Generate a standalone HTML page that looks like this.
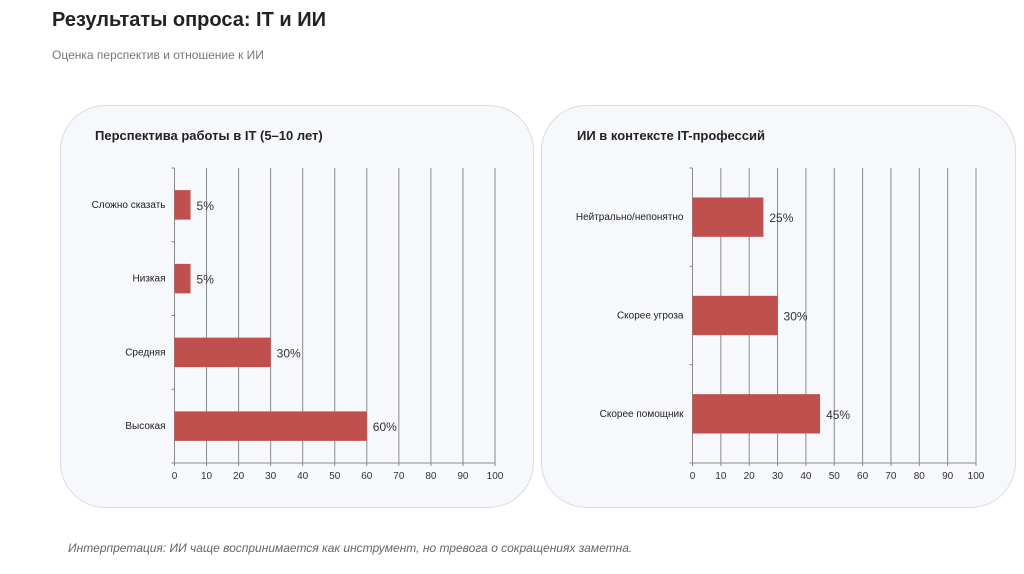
<!DOCTYPE html>
<html><head><meta charset="utf-8">
<style>
body{margin:0;width:1024px;height:574px;background:#fff;font-family:"Liberation Sans","Noto Sans CJK SC",sans-serif;position:relative;overflow:hidden}
.t{position:absolute}
</style></head><body>
<div class="t" style="left:52px;top:9px;font-size:20px;font-weight:bold;color:#222">Результаты опроса: IT и ИИ</div>
<div class="t" style="left:52px;top:48px;font-size:12px;color:#777">Оценка перспектив и отношение к ИИ</div>
<div class="t" style="left:68px;top:541px;font-size:12px;color:#666;font-style:italic">Интерпретация: ИИ чаще воспринимается как инструмент, но тревога о сокращениях заметна.</div>
<svg id="s" width="1024" height="574" style="position:absolute;left:0;top:0">
<rect x="60.5" y="105.5" width="473" height="402" rx="45" fill="#f6f8fb" stroke="#d8dce2"/>
<rect x="541.5" y="105.5" width="474" height="402" rx="45" fill="#f6f8fb" stroke="#d8dce2"/>
<text x="95" y="140" font-size="13" font-weight="bold" fill="#222">Перспектива работы в IT (5–10 лет)</text>
<text x="577" y="140" font-size="13" font-weight="bold" fill="#222">ИИ в контексте IT-профессий</text>
<g id="g1"></g><g id="g2"></g>
</svg>
<script>
const cats1=["Сложно сказать","Низкая","Средняя","Высокая"];
const vals1=[5,5,30,60];
const cats2=["Нейтрально/непонятно","Скорее угроза","Скорее помощник"];
const vals2=[25,30,45];
const ticks=[0,10,20,30,40,50,60,70,80,90,100];
const NS="http://www.w3.org/2000/svg";
function mk(g,tag,a){const e=document.createElementNS(NS,tag);for(const k in a)e.setAttribute(k,a[k]);g.appendChild(e);return e;}
function chart(gid,cats,vals,x0,x1,top,bot){
 const g=document.getElementById(gid);
 const sx=v=>x0+(x1-x0)*v/100;
 const band=(bot-top)/cats.length;
 ticks.forEach(t=>{
  const l=mk(g,"line",{x1:sx(t),x2:sx(t),y1:top,y2:bot+3,stroke:"#8a8a8a","stroke-width":1});
  
  
  const tx=mk(g,"text",{x:sx(t),y:bot+16,"font-size":10,"text-anchor":"middle",fill:"#333"});
  tx.textContent=t;
  
  
 });
 mk(g,"line",{x1:x0-3,x2:x1,y1:bot,y2:bot,stroke:"#8a8a8a"});
 for(let i=0;i<=cats.length;i++)mk(g,"line",{x1:x0-3,x2:x0,y1:top+band*i,y2:top+band*i,stroke:"#8a8a8a"});
 cats.forEach((c,i)=>{
  const cy=top+band*(i+0.5),h=band*0.4;
  const r=mk(g,"rect",{x:x0,y:cy-h/2,width:sx(vals[i])-x0,height:h,fill:"#c0504d"});
  
  
  const lb=mk(g,"text",{x:x0-9,y:cy+3,"font-size":10,"text-anchor":"end",fill:"#222"});
  lb.textContent=c;
  
  
  const vl=mk(g,"text",{x:sx(vals[i])+6,y:cy+5,"font-size":12,fill:"#333"});
  vl.textContent=vals[i]+"%";
  
  
 });
}
chart("g1",cats1,vals1,174.5,495,168,463);
chart("g2",cats2,vals2,692.5,976,168,463);
</script>
</body></html>
